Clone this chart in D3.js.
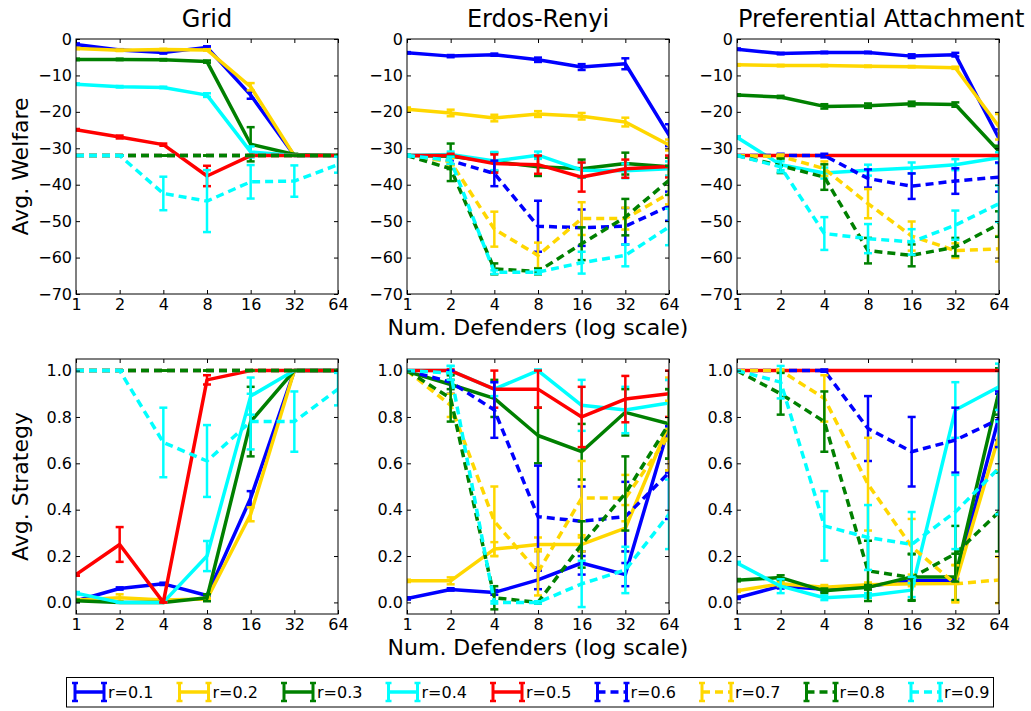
<!DOCTYPE html>
<html><head><meta charset="utf-8">
<script src="https://cdn.jsdelivr.net/npm/d3@7"></script>
<style>
body{margin:0;background:#fff}
svg{display:block}
text{font-family:"DejaVu Sans",sans-serif;fill:#000}
</style>
</head><body>
<svg id="chart" width="1031" height="711"></svg>
<script>
// ---------------- data ----------------
const xValues = [1, 2, 4, 8, 16, 32, 64];
const seriesLabels = ["r=0.1","r=0.2","r=0.3","r=0.4","r=0.5","r=0.6","r=0.7","r=0.8","r=0.9"];
const seriesColors = ["#0000ff","#ffd700","#008000","#00ffff","#ff0000","#0000ff","#ffd700","#008000","#00ffff"];
const seriesDashed = [false,false,false,false,false,true,true,true,true];
const panelTitles = ["Grid","Erdos-Renyi","Preferential Attachment"];
const welfareTicks = [0,-10,-20,-30,-40,-50,-60,-70];
const strategyTicks = [0,0.2,0.4,0.6,0.8,1.0];
const xLabel = "Num. Defenders (log scale)";
const welfareLabel = "Avg. Welfare";
const strategyLabel = "Avg. Strategy";

// Avg. Welfare
const welfareGrid = [
  [-1.5,-3.0,-3.7,-2.3,-15.4,-32,-32],
  [-2.6,-3.1,-2.9,-3.0,-13.1,-32,-32],
  [-5.6,-5.6,-5.7,-6.2,-28.9,-31.7,-32],
  [-12.4,-13.1,-13.3,-15.4,-31.0,-32,-32],
  [-24.9,-26.9,-29.0,-37.6,-32,-32,-32],
  [-32,-32,-32,-32,-32,-32,-32],
  [-32,-32,-32,-32,-32,-32,-32],
  [-32,-32,-32,-32,-32,-32,-32],
  [-32,-32,-42.4,-44.5,-39.2,-39.0,-34.5]
];
const welfareGridErr = [
  [0.3,0.2,0.3,0.3,1.0,0,0],
  [0.2,0.2,0.2,0.2,1.0,0,0],
  [0.2,0.2,0.2,0.3,4.7,0.2,0],
  [0.2,0.2,0.2,0.5,1.5,0,0],
  [0.2,0.4,0.3,2.8,0.2,0,0],
  [0,0,0,0,0,0,0],
  [0,0,0,0,0,0,0],
  [0,0,0,0,0,0,0],
  [0,0,4.6,8.5,4.6,4.3,2.2]
];
const welfareER = [
  [-3.8,-4.7,-4.3,-5.7,-7.7,-6.8,-26.4],
  [-19.3,-20.3,-21.7,-20.6,-21.2,-22.8,-29.1],
  [-32,-32.2,-33.7,-35.1,-35.6,-34.2,-35.1],
  [-32,-31.7,-33.5,-31.9,-36.0,-36.2,-35.6],
  [-32,-32,-34.2,-34.5,-37.9,-35.6,-35.0],
  [-32,-33.4,-36.9,-51.4,-51.8,-51.4,-45.9],
  [-32,-33.7,-52.2,-59.4,-49.3,-49.3,-42.4],
  [-32,-35.6,-63.1,-63.8,-56.2,-48.9,-38.8],
  [-32,-33.3,-64.0,-64.0,-61.4,-59.4,-51.6]
];
const welfareERErr = [
  [0.2,0.3,0.3,0.6,0.8,1.5,3.0],
  [0.5,0.9,0.9,0.8,0.9,1.2,1.5],
  [0.3,3.5,2.5,2.5,2.5,3.0,2.5],
  [0.3,0.8,2.5,1.0,2.0,2.0,2.0],
  [0.3,0.5,2.5,2.5,4.0,2.5,3.0],
  [0.3,1.0,3.5,7.0,5.0,5.0,4.0],
  [0.3,1.0,4.8,3.5,4.5,3.0,3.0],
  [0.3,3.4,1.5,0.8,4.5,5.0,4.0],
  [0.3,1.0,0.5,0.5,3.0,3.0,5.0]
];
const welfarePA = [
  [-2.8,-4.0,-3.7,-3.7,-4.7,-4.3,-27.3],
  [-7.1,-7.3,-7.3,-7.5,-7.6,-7.9,-24.1],
  [-15.4,-15.9,-18.5,-18.3,-17.8,-18.0,-30.8],
  [-27.0,-34.5,-36.8,-36.0,-35.4,-34.5,-32.6],
  [-32,-32,-32,-32,-32,-32,-32],
  [-32,-32,-32,-38.3,-40.4,-39.0,-37.9],
  [-32,-32.2,-35.6,-45.2,-54.1,-58.1,-57.6],
  [-32,-34.8,-37.9,-58.1,-59.4,-57.1,-50.8],
  [-32,-35.1,-53.4,-54.8,-55.7,-51.1,-45.2]
];
const welfarePAErr = [
  [0.2,0.2,0.2,0.2,0.5,0.5,2.5],
  [0.2,0.2,0.2,0.2,0.2,0.3,3.5],
  [0.2,0.3,0.6,0.6,0.6,0.6,1.5],
  [0.3,1.5,1.5,1.5,1.5,1.5,1.5],
  [0,0,0,0,0,0,0],
  [0,0.5,0.5,2.5,3.5,3.5,4.0],
  [0,0.5,2.0,4.0,4.0,2.0,3.5],
  [0,2.0,3.5,3.5,3.0,2.5,3.5],
  [0,1.5,4.5,4.0,3.5,4.0,5.0]
];

// Avg. Strategy
const strategyGrid = [
  [0.007,0.06,0.08,0.03,0.45,1.0,1.0],
  [0.01,0.02,0.01,0.015,0.38,1.0,1.0],
  [0.007,0.0,0.0,0.02,0.78,1.0,1.0],
  [0.04,0.0,0.0,0.2,0.89,1.0,1.0],
  [0.12,0.25,0.0,0.96,1.0,1.0,1.0],
  [1.0,1.0,1.0,1.0,1.0,1.0,1.0],
  [1.0,1.0,1.0,1.0,1.0,1.0,1.0],
  [1.0,1.0,1.0,1.0,1.0,1.0,1.0],
  [1.0,1.0,0.69,0.61,0.78,0.78,0.92]
];
const strategyGridErr = [
  [0.005,0.005,0.005,0.005,0.03,0,0],
  [0.005,0.015,0.005,0.005,0.03,0,0],
  [0.005,0,0,0.015,0.15,0,0],
  [0.005,0,0,0.065,0.08,0,0],
  [0.005,0.075,0,0.02,0,0,0],
  [0,0,0,0,0,0,0],
  [0,0,0,0,0,0,0],
  [0,0,0,0,0,0,0],
  [0,0,0.15,0.155,0.12,0.13,0.07]
];
const strategyER = [
  [0.017,0.056,0.043,0.097,0.17,0.12,0.76],
  [0.093,0.093,0.23,0.25,0.25,0.32,0.77],
  [0.996,0.94,0.88,0.72,0.65,0.82,0.77],
  [1.0,1.0,0.92,1.0,0.85,0.83,0.86],
  [1.0,1.0,0.92,0.92,0.80,0.877,0.90],
  [1.0,0.95,0.83,0.37,0.35,0.37,0.56],
  [1.0,0.85,0.35,0.13,0.45,0.45,0.72],
  [1.0,0.88,0.02,0.0,0.25,0.47,0.77],
  [1.0,0.99,0.0,0.0,0.08,0.14,0.38]
];
const strategyERErr = [
  [0.005,0.005,0.01,0.04,0.05,0.05,0.2],
  [0.005,0.015,0.03,0.03,0.03,0.1,0.2],
  [0.005,0.02,0.08,0.12,0.12,0.1,0.15],
  [0,0.02,0.03,0.005,0.11,0.1,0.1],
  [0,0.005,0.08,0.08,0.13,0.1,0.1],
  [0,0.05,0.12,0.22,0.15,0.15,0.2],
  [0,0.05,0.15,0.1,0.16,0.1,0.15],
  [0,0.1,0.05,0.005,0.1,0.16,0.15],
  [0,0.03,0.005,0.005,0.1,0.1,0.15]
];
const strategyPA = [
  [0.02,0.07,0.057,0.07,0.093,0.093,0.8],
  [0.05,0.08,0.065,0.076,0.08,0.082,0.72],
  [0.096,0.107,0.05,0.065,0.11,0.11,0.91],
  [0.17,0.07,0.02,0.03,0.053,0.83,0.93],
  [1.0,1.0,1.0,1.0,1.0,1.0,1.0],
  [1.0,1.0,1.0,0.75,0.65,0.70,0.79],
  [1.0,1.0,0.88,0.51,0.24,0.08,0.097],
  [1.0,0.9,0.78,0.136,0.107,0.21,0.39],
  [1.0,0.95,0.33,0.28,0.25,0.39,0.58]
];
const strategyPAErr = [
  [0.005,0.01,0.01,0.01,0.01,0.01,0.1],
  [0.005,0.01,0.01,0.01,0.01,0.08,0.15],
  [0.005,0.01,0.01,0.01,0.1,0.1,0.1],
  [0.005,0.03,0.01,0.01,0.03,0.12,0.1],
  [0,0,0,0,0,0,0],
  [0,0,0.005,0.14,0.15,0.14,0.12],
  [0,0.005,0.1,0.2,0.12,0.08,0.1],
  [0,0.09,0.13,0.13,0.1,0.12,0.17],
  [0,0.07,0.15,0.14,0.14,0.16,0.2]
];

// ---------------- layout ----------------
const svg = d3.select("#chart");
const panelLefts = [76, 407, 737];
const panelW = 262;
const rows = [
  {top: 39, bottom: 294, domain: [-70, 0], ticks: welfareTicks,
   fmt: d => d < 0 ? "\u2212" + Math.abs(d) : String(d),
   data: [welfareGrid, welfareER, welfarePA], err: [welfareGridErr, welfareERErr, welfarePAErr],
   ylabel: welfareLabel, titles: true},
  {top: 359, bottom: 614, domain: [-0.05, 1.05], ticks: strategyTicks,
   fmt: d => d.toFixed(1),
   data: [strategyGrid, strategyER, strategyPA], err: [strategyGridErr, strategyERErr, strategyPAErr],
   ylabel: strategyLabel, titles: false}
];

const LW = 3.5, ELW = 2.5, CAP = 4, DASH = "8,5";
const TICKFONT = "16px", LABELFONT = "22px", TITLEFONT = "24px";
let clipId = 0;

rows.forEach((row, ri) => {
  panelLefts.forEach((left, pi) => {
    const x = d3.scaleLog().base(2).domain([1, 64]).range([left, left + panelW]);
    const y = d3.scaleLinear().domain(row.domain).range([row.bottom, row.top]);
    const g = svg.append("g");
    const cid = "clip" + (clipId++);
    svg.append("clipPath").attr("id", cid).append("rect")
      .attr("x", left).attr("y", row.top).attr("width", panelW).attr("height", row.bottom - row.top);
    const plot = g.append("g").attr("clip-path", `url(#${cid})`);
    const vals = row.data[pi], errs = row.err[pi];
    const line = d3.line().x((d, i) => x(xValues[i])).y(d => y(d));
    vals.forEach((series, si) => {
      const col = seriesColors[si];
      plot.append("path").datum(series)
        .attr("d", line).attr("fill", "none").attr("stroke", col)
        .attr("stroke-width", LW).attr("stroke-linejoin", "round")
        .attr("stroke-dasharray", seriesDashed[si] ? DASH : null);
      const eb = plot.append("g").attr("stroke", col).attr("stroke-width", ELW);
      series.forEach((v, i) => {
        const e = errs[si][i];
        const cx = x(xValues[i]);
        eb.append("line").attr("x1", cx).attr("x2", cx).attr("y1", y(v - e)).attr("y2", y(v + e));
        [v - e, v + e].forEach(ev => {
          eb.append("line").attr("x1", cx - CAP).attr("x2", cx + CAP).attr("y1", y(ev)).attr("y2", y(ev));
        });
      });
    });
    // axes (ticks inward on all sides)
    const axB = g.append("g").attr("transform", `translate(0,${row.bottom})`)
      .call(d3.axisBottom(x).tickValues(xValues).tickFormat(d3.format("d")).tickSizeInner(-4).tickSizeOuter(0).tickPadding(5));
    const axT = g.append("g").attr("transform", `translate(0,${row.top})`)
      .call(d3.axisTop(x).tickValues(xValues).tickFormat("").tickSizeInner(-4).tickSizeOuter(0));
    const axL = g.append("g").attr("transform", `translate(${left},0)`)
      .call(d3.axisLeft(y).tickValues(row.ticks).tickFormat(row.fmt).tickSizeInner(-4).tickSizeOuter(0).tickPadding(4));
    const axR = g.append("g").attr("transform", `translate(${left + panelW},0)`)
      .call(d3.axisRight(y).tickValues(row.ticks).tickFormat("").tickSizeInner(-4).tickSizeOuter(0));
    [axB, axT, axL, axR].forEach(a => {
      a.select(".domain").remove();
      a.selectAll("line").attr("stroke", "#000").attr("stroke-width", 1);
      a.selectAll("text").attr("font-family", "DejaVu Sans").attr("font-size", TICKFONT).attr("fill", "#000");
    });
    g.append("rect").attr("x", left).attr("y", row.top).attr("width", panelW).attr("height", row.bottom - row.top)
      .attr("fill", "none").attr("stroke", "#000").attr("stroke-width", 1);
    if (row.titles) {
      const t = g.append("text").attr("x", left + panelW / 2).attr("y", 27).attr("text-anchor", "middle")
        .attr("font-size", TITLEFONT).text(panelTitles[pi]);
      // keep a wide title from running over the y tick labels (as in the reference)
      const w = t.node().getComputedTextLength();
      if (left + panelW / 2 - w / 2 < left + 1) {
        t.attr("text-anchor", "start").attr("x", left + 1);
      }
    }
    if (pi === 1) {
      g.append("text").attr("x", left + panelW / 2).attr("y", row.bottom + 41).attr("text-anchor", "middle")
        .attr("font-size", LABELFONT).text(xLabel);
    }
    if (pi === 0) {
      const cy = (row.top + row.bottom) / 2;
      g.append("text").attr("transform", `translate(28,${cy}) rotate(-90)`).attr("text-anchor", "middle")
        .attr("font-size", LABELFONT).text(row.ylabel);
    }
  });
});

// ---------------- legend ----------------
const leg = svg.append("g");
leg.append("rect").attr("x", 66.5).attr("y", 677.5).attr("width", 927).attr("height", 29.5)
  .attr("fill", "#fff").attr("stroke", "#000").attr("stroke-width", 1);
seriesLabels.forEach((lab, i) => {
  const x0 = 75 + i * 104.5, x1 = x0 + 29, cy = 692;
  const col = seriesColors[i];
  const it = leg.append("g").attr("stroke", col);
  it.append("line").attr("x1", x0).attr("x2", x1).attr("y1", cy).attr("y2", cy)
    .attr("stroke-width", LW).attr("stroke-dasharray", seriesDashed[i] ? DASH : null);
  [x0, x1].forEach(xx => {
    it.append("line").attr("x1", xx).attr("x2", xx).attr("y1", cy - 9).attr("y2", cy + 9).attr("stroke-width", ELW + 0.5);
    [cy - 9, cy + 9].forEach(yy => it.append("line").attr("x1", xx - 3).attr("x2", xx + 3).attr("y1", yy).attr("y2", yy).attr("stroke-width", ELW));
  });
  leg.append("text").attr("x", x1 + 4).attr("y", 698).attr("font-size", "16px").text(lab);
});
</script>
</body></html>
